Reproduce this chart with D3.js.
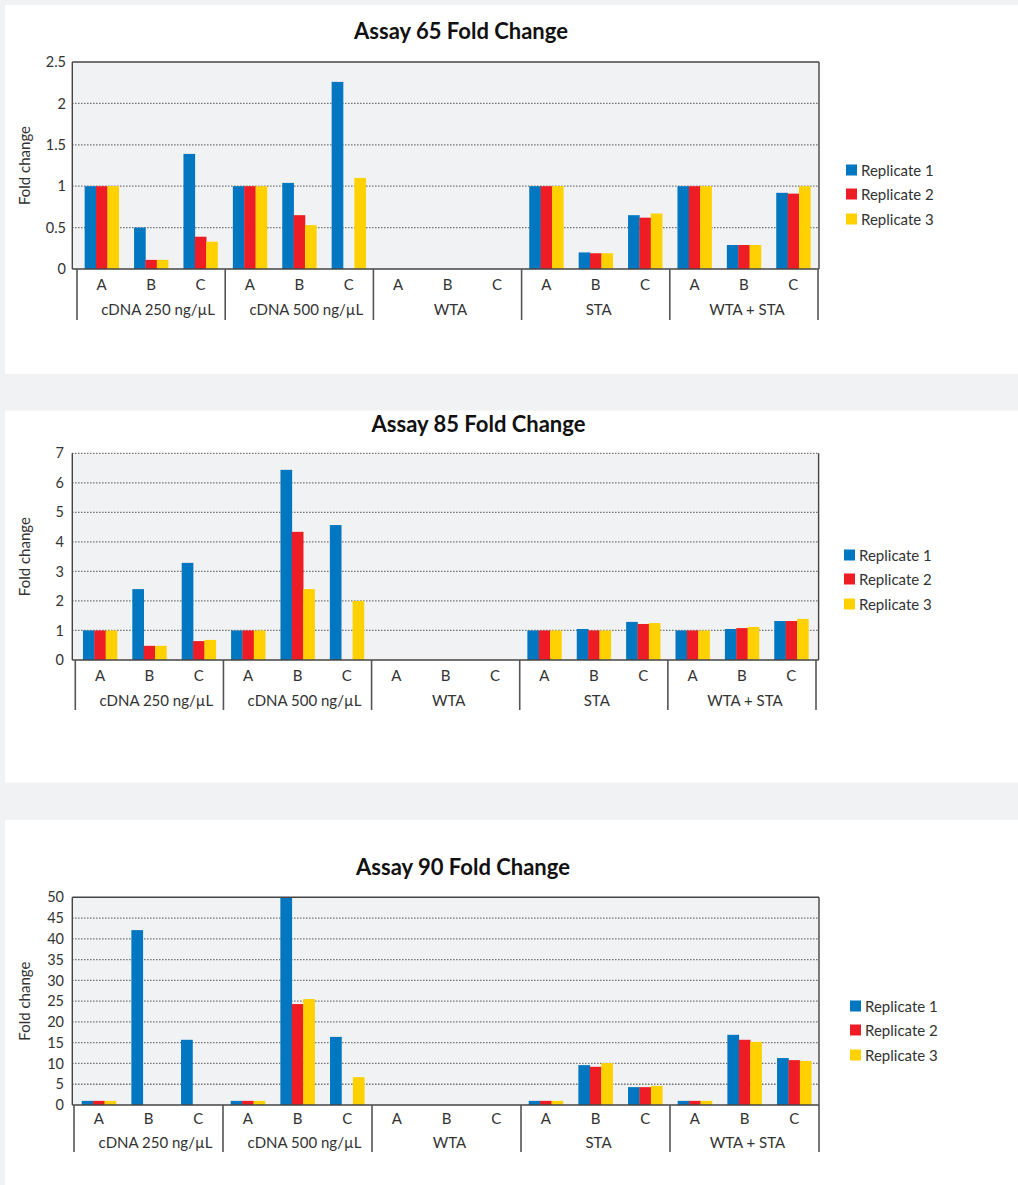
<!DOCTYPE html>
<html>
<head>
<meta charset="utf-8">
<script src="https://cdn.jsdelivr.net/npm/d3@7"></script>
<style>
  html, body { margin: 0; padding: 0; background: #f1f2f4; }
  svg { display: block; font-family: Lato, "Noto Sans", sans-serif; }
</style>
</head>
<body>
<svg id="chart" width="1018" height="1185"></svg>
<script>
// Sample groups, samples within each group and replicate series
const groups = ["cDNA 250 ng/µL", "cDNA 500 ng/µL", "WTA", "STA", "WTA + STA"];
const samples = ["A", "B", "C"];
const replicates = ["Replicate 1", "Replicate 2", "Replicate 3"];

// Fold change per sample (groups × samples, in order); null = no bar
const assay65Rep1 = [1, 0.5, 1.39,  1, 1.04, 2.26,  null, null, null,  1, 0.2, 0.65,  1, 0.29, 0.92];
const assay65Rep2 = [1, 0.11, 0.39, 1, 0.65, null,  null, null, null,  1, 0.19, 0.62, 1, 0.29, 0.91];
const assay65Rep3 = [1, 0.11, 0.33, 1, 0.53, 1.1,   null, null, null,  1, 0.19, 0.67, 1, 0.29, 1.0];
const assay65Ticks = [0, 0.5, 1, 1.5, 2, 2.5];

const assay85Rep1 = [1, 2.4, 3.29,  1, 6.44, 4.57,  null, null, null,  1, 1.05, 1.29,  1, 1.05, 1.32];
const assay85Rep2 = [1, 0.48, 0.64, 1, 4.34, null,  null, null, null,  1, 1.0, 1.22,   1, 1.08, 1.32];
const assay85Rep3 = [1, 0.48, 0.68, 1, 2.4, 2.0,    null, null, null,  1, 1.0, 1.25,   1, 1.12, 1.39];
const assay85Ticks = [0, 1, 2, 3, 4, 5, 6, 7];

const assay90Rep1 = [1, 42.1, 15.7, 1, 50, 16.4,    null, null, null,  1, 9.6, 4.3,   1, 16.9, 11.3];
const assay90Rep2 = [1, null, null, 1, 24.3, null,  null, null, null,  1, 9.2, 4.3,   1, 15.7, 10.8];
const assay90Rep3 = [1, null, null, 1, 25.5, 6.7,   null, null, null,  1, 10.1, 4.6,  1, 15.2, 10.6];
const assay90Ticks = [0, 5, 10, 15, 20, 25, 30, 35, 40, 45, 50];

const colors = ["#0077c0", "#ee1d25", "#ffd100"];

// Panel layouts
const panels = [
  { title: "Assay 65 Fold Change", series: [assay65Rep1, assay65Rep2, assay65Rep3], ticks: assay65Ticks,
    panelTop: 5, panelBottom: 374, titleX: 461, titleY: 30,
    plotLeft: 72.3, plotRight: 819, plotTop: 62, plotBottom: 269,
    bandLeft: 77, bandRight: 818, tickRight: 66,
    sampleY: 284, groupY: 309, dividerBottom: 320,
    legendX: 846, legendY: [170, 194, 219], dottedTop: false },
  { title: "Assay 85 Fold Change", series: [assay85Rep1, assay85Rep2, assay85Rep3], ticks: assay85Ticks,
    panelTop: 410.7, panelBottom: 782.7, titleX: 478.5, titleY: 423,
    plotLeft: 72.3, plotRight: 818.6, plotTop: 453.3, plotBottom: 660,
    bandLeft: 75.3, bandRight: 816, tickRight: 64,
    sampleY: 675, groupY: 700, dividerBottom: 710,
    legendX: 844, legendY: [555, 579, 604], dottedTop: true },
  { title: "Assay 90 Fold Change", series: [assay90Rep1, assay90Rep2, assay90Rep3], ticks: assay90Ticks,
    panelTop: 820, panelBottom: 1185, titleX: 463, titleY: 866.5,
    plotLeft: 72.3, plotRight: 819, plotTop: 897.3, plotBottom: 1105,
    bandLeft: 74, bandRight: 819, tickRight: 64,
    sampleY: 1118, groupY: 1142, dividerBottom: 1152,
    legendX: 850, legendY: [1006, 1030, 1055], dottedTop: false }
];

const svg = d3.select("#chart");
const keys = groups.flatMap((g, gi) => samples.map((s, si) => gi * samples.length + si));

panels.forEach((p, pi) => {
  const g = svg.append("g");

  g.append("rect")
    .attr("x", 5).attr("y", p.panelTop)
    .attr("width", 1013).attr("height", p.panelBottom - p.panelTop)
    .attr("fill", "#ffffff");

  g.append("text")
    .attr("x", p.titleX).attr("y", p.titleY)
    .attr("text-anchor", "middle").attr("dominant-baseline", "central")
    .attr("font-size", 22).attr("font-weight", 700).attr("fill", "#111")
    .text(p.title);

  const yMax = p.ticks[p.ticks.length - 1];
  const y = d3.scaleLinear().domain([0, yMax]).range([p.plotBottom, p.plotTop]);
  const x = d3.scaleBand().domain(keys).range([p.bandLeft, p.bandRight])
    .paddingInner(0.31).paddingOuter(0.155);
  const xSub = d3.scaleBand().domain(d3.range(replicates.length)).range([0, x.bandwidth()]);
  const xGroup = d3.scaleBand().domain(groups).range([p.bandLeft, p.bandRight]);

  // plot background
  g.append("rect")
    .attr("x", p.plotLeft).attr("y", p.plotTop)
    .attr("width", p.plotRight - p.plotLeft).attr("height", p.plotBottom - p.plotTop)
    .attr("fill", "#f1f2f4");

  // dotted gridlines
  const gridTicks = p.ticks.filter(t => t > 0 && (t < yMax || p.dottedTop));
  g.append("g").selectAll("line").data(gridTicks).join("line")
    .attr("x1", p.plotLeft).attr("x2", p.plotRight)
    .attr("y1", d => y(d)).attr("y2", d => y(d))
    .attr("stroke", "#444").attr("stroke-width", 1.3)
    .attr("stroke-dasharray", "1.1,1.9");

  // bars
  const clipId = "clip" + pi;
  g.append("clipPath").attr("id", clipId).append("rect")
    .attr("x", p.plotLeft).attr("y", p.plotTop)
    .attr("width", p.plotRight - p.plotLeft).attr("height", p.plotBottom - p.plotTop);
  const barData = [];
  p.series.forEach((vals, ri) => vals.forEach((v, k) => {
    if (v != null) barData.push({ k, ri, v });
  }));
  g.append("g").attr("clip-path", `url(#${clipId})`)
    .selectAll("rect").data(barData).join("rect")
    .attr("x", d => x(d.k) + xSub(d.ri))
    .attr("width", xSub.bandwidth() + 0.3)
    .attr("y", d => y(d.v))
    .attr("height", d => y(0) - y(d.v))
    .attr("fill", d => colors[d.ri]);

  // plot frame
  const frame = g.append("g").attr("stroke", "#444").attr("stroke-width", 1.4).attr("fill", "none");
  if (!p.dottedTop) {
    frame.append("line").attr("x1", p.plotLeft).attr("x2", p.plotRight).attr("y1", p.plotTop).attr("y2", p.plotTop);
  }
  frame.append("line").attr("x1", p.plotLeft).attr("x2", p.plotLeft).attr("y1", p.plotTop).attr("y2", p.plotBottom);
  frame.append("line").attr("x1", p.plotRight).attr("x2", p.plotRight).attr("y1", p.plotTop).attr("y2", p.plotBottom);
  frame.append("line").attr("x1", p.plotLeft).attr("x2", p.plotRight).attr("y1", p.plotBottom).attr("y2", p.plotBottom);

  // y axis labels
  const yAxis = d3.axisLeft(y).tickValues(p.ticks).tickSize(0).tickPadding(0)
    .tickFormat(d => String(d));
  const ya = g.append("g").attr("transform", `translate(${p.tickRight},0)`).call(yAxis);
  ya.select(".domain").remove();
  ya.selectAll("text").attr("font-size", 14.5).attr("fill", "#333").attr("font-family", "Lato, sans-serif");

  g.append("text")
    .attr("transform", `translate(24,${(p.plotTop + p.plotBottom) / 2}) rotate(-90)`)
    .attr("text-anchor", "middle").attr("dominant-baseline", "central")
    .attr("font-size", 15).attr("fill", "#333")
    .text("Fold change");

  // sample labels
  const xAxis = d3.axisBottom(x).tickSize(0).tickPadding(0)
    .tickFormat(k => samples[k % samples.length]);
  const xa = g.append("g").attr("transform", `translate(0,${p.sampleY})`).call(xAxis);
  xa.select(".domain").remove();
  xa.selectAll("text").attr("dy", null).attr("dominant-baseline", "central")
    .attr("font-size", 15).attr("fill", "#333").attr("font-family", "Lato, sans-serif");

  // group labels
  g.append("g").selectAll("text").data(groups).join("text")
    .attr("x", d => xGroup(d) + xGroup.bandwidth() / 2 + (d.startsWith("cDNA") ? 7 : 3))
    .attr("y", p.groupY)
    .attr("text-anchor", "middle").attr("dominant-baseline", "central")
    .attr("font-size", 15).attr("fill", "#333")
    .text(d => d);

  // group dividers
  const edges = groups.map(d => xGroup(d)).concat([p.bandRight]);
  g.append("g").selectAll("line").data(edges).join("line")
    .attr("x1", d => d).attr("x2", d => d)
    .attr("y1", p.plotBottom).attr("y2", p.dividerBottom)
    .attr("stroke", "#555").attr("stroke-width", 1.6);

  // legend
  const leg = g.append("g").selectAll("g").data(replicates).join("g")
    .attr("transform", (d, i) => `translate(${p.legendX},${p.legendY[i]})`);
  leg.append("rect").attr("x", 0).attr("y", -5.5).attr("width", 11).attr("height", 11)
    .attr("fill", (d, i) => colors[i]);
  leg.append("text").attr("x", 15).attr("y", 0).attr("dominant-baseline", "central")
    .attr("font-size", 15).attr("fill", "#333").text(d => d);
});
</script>
</body>
</html>
